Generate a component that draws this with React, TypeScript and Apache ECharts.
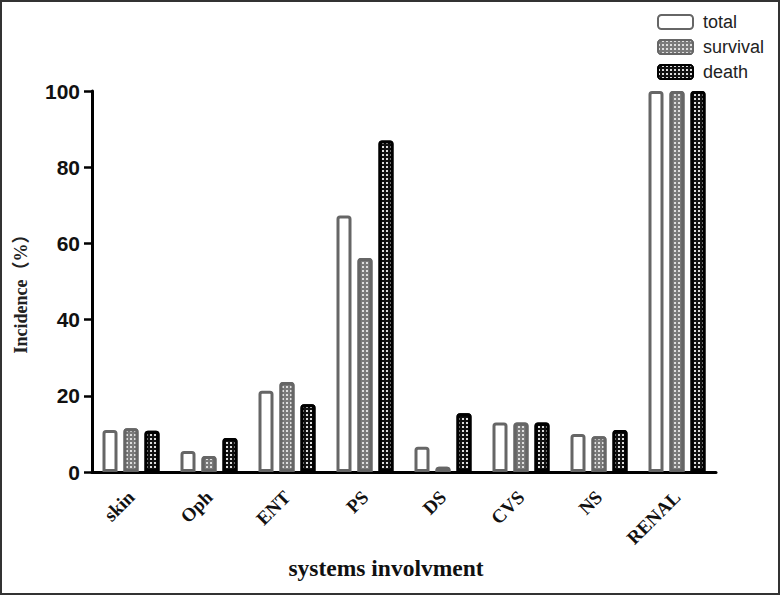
import React, { useEffect, useRef } from "react";
import * as echarts from "echarts";

const categories = ["skin", "Oph", "ENT", "PS", "DS", "CVS", "NS", "RENAL"];
const totalValues = [11, 5.5, 21.3, 67.3, 6.6, 13, 10, 100];
const survivalValues = [11.5, 4.2, 23.6, 56.2, 1.4, 13, 9.4, 100];
const deathValues = [10.8, 8.9, 17.8, 87, 15.4, 13, 11, 100];
const yTicks = [0, 20, 40, 60, 80, 100];

export default function App() {
  const ref = useRef<HTMLDivElement>(null);
  useEffect(() => {
    if (!ref.current) return;
    const chart = echarts.init(ref.current, null, { renderer: "svg" });
    const dotDecal = (color: string) => ({
      symbol: "rect",
      symbolSize: 1,
      color,
      dashArrayX: [2, 2],
      dashArrayY: [2, 2],
      rotation: 0,
    });
    chart.setOption({
      animation: false,
      backgroundColor: "#fff",
      legend: {
        orient: "vertical",
        left: 650,
        top: 6,
        itemWidth: 35,
        itemHeight: 14,
        itemGap: 7,
        textStyle: {
          fontFamily: "Liberation Sans",
          fontSize: 18,
          color: "#222",
          padding: [0, 0, 0, 5],
        },
        data: ["total", "survival", "death"],
      },
      grid: { left: 90, top: 89, right: 62, bottom: 121, containLabel: false },
      xAxis: {
        type: "category",
        data: categories,
        name: "systems involvment",
        nameLocation: "middle",
        nameGap: 84,
        nameTextStyle: {
          fontFamily: "Liberation Serif",
          fontWeight: "bold",
          fontSize: 23.5,
          color: "#111",
          padding: [0, 36, 0, 0],
        },
        axisLine: { lineStyle: { color: "#000", width: 3 } },
        axisTick: { alignWithLabel: true, length: 8, lineStyle: { color: "#000", width: 2.5 } },
        axisLabel: {
          rotate: 45,
          margin: 22,
          fontFamily: "Liberation Serif",
          fontWeight: "bold",
          fontSize: 19,
          color: "#111",
        },
      },
      yAxis: {
        type: "value",
        min: 0,
        max: 100,
        interval: 20,
        name: "Incidence（%）",
        nameLocation: "middle",
        nameGap: 62,
        nameTextStyle: {
          fontFamily: "Liberation Serif, 'Noto Sans CJK TC'",
          fontWeight: "bold",
          fontSize: 18,
          color: "#222",
          padding: [0, 16, 0, 0],
        },
        axisLine: { show: true, lineStyle: { color: "#000", width: 3 } },
        axisTick: { show: true, length: 8, lineStyle: { color: "#000", width: 2.5 } },
        splitLine: { show: false },
        axisLabel: {
          margin: 12,
          fontFamily: "Liberation Sans",
          fontWeight: "bold",
          fontSize: 21,
          color: "#111",
          formatter: (v: number) => (yTicks.includes(v) ? String(v) : ""),
        },
      },
      series: [
        {
          name: "total",
          type: "bar",
          data: totalValues,
          barWidth: 15,
          barGap: "40%",
          itemStyle: {
            color: "#fff",
            borderColor: "#666",
            borderWidth: 3,
            borderRadius: [2, 2, 0, 0],
          },
        },
        {
          name: "survival",
          type: "bar",
          data: survivalValues,
          barWidth: 15,
          barGap: "40%",
          itemStyle: {
            color: "#7a7a7a",
            borderColor: "#666",
            borderWidth: 3,
            borderRadius: [2, 2, 0, 0],
            decal: dotDecal("rgba(255,255,255,0.75)"),
          },
        },
        {
          name: "death",
          type: "bar",
          data: deathValues,
          barWidth: 15,
          barGap: "40%",
          itemStyle: {
            color: "#111",
            borderColor: "#000",
            borderWidth: 3,
            borderRadius: [2, 2, 0, 0],
            decal: dotDecal("rgba(255,255,255,0.85)"),
          },
        },
      ],
    });
    return () => chart.dispose();
  }, []);
  return (
    <div
      style={{
        position: "fixed",
        left: 0,
        top: 0,
        width: 780,
        height: 595,
        boxSizing: "border-box",
        border: "2px solid #333",
        background: "#fff",
      }}
    >
      <div ref={ref} style={{ width: 776, height: 591 }} />
    </div>
  );
}
